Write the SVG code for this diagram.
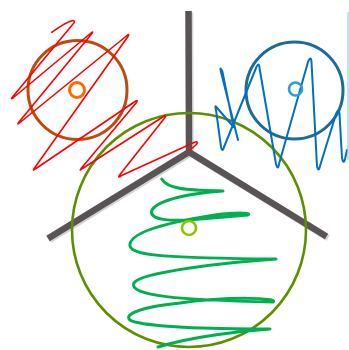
<svg xmlns="http://www.w3.org/2000/svg" width="349" height="350" viewBox="0 0 349 350">
<style>
.arm{stroke:#595355;stroke-width:6.5;fill:none;stroke-linecap:butt;stroke-linejoin:miter}
.scr{fill:none;stroke-linejoin:round;stroke-linecap:round}
</style>
<rect width="349" height="350" fill="#ffffff"/>
<g id="frame">
<path class="arm" d="M188.5,11 L189,152 M189,152 L48,238.5 M189,152 L326.5,236.5" stroke-opacity="0.25" transform="translate(1.5,1.5)"/>
<path class="arm" d="M188.5,11 L189,152 M189,152 L48,238.5 M189,152 L326.5,236.5"/>
</g>
<g id="green-circle">
<circle cx="189" cy="230" r="117" fill="none" stroke="#5f8f00" stroke-width="2.6"/>
</g>
<g id="red-circle">
<circle cx="77.5" cy="90" r="49.5" fill="none" stroke="#bf4a0c" stroke-width="3"/>
</g>
<g id="blue-circle">
<circle cx="294.5" cy="90.5" r="48.5" fill="none" stroke="#1b6d96" stroke-width="3"/>
</g>
<g id="scribbles">
<path id="red-scribble" class="scr" stroke="#ff0000" stroke-width="1.6" d="M51.7,32.3 Q66,22 73,20.5 Q76,21 73,24 L12.5,97 Q10,100 13.5,97.5 L91,33 Q94,30.5 91.5,34 L19,122 Q16.5,125.5 20,122.5 L127,35.5 Q130,33 128,36.5 L34.5,168 Q32,172 36,168.5 L135,101.5 Q138.5,99 136.5,102.5 L81.5,168 Q78.5,172 82.5,168.5 L163.5,116.5 Q167,114 165,117.5 L120,174.5 Q117,179 121.5,175.5 L194,142.5 Q199.5,140.5 196,145 L190,150"/>
<path id="blue-scribble" class="scr" stroke="#0070c0" stroke-width="2" d="M238,140 L221,72 Q219.5,65 222.5,72 L233,124 Q235,130 231,124 L218,109 Q214,103 216,110 L221,147 Q222.5,153 224,147 L256,68 Q259,61 259.5,68 L276,164 Q278,171 279,164 L308,62 Q311,55 311.5,62 L317,166 Q318.5,173 320,166 L336,114 Q339,107 339.5,114 L342,158 Q343.5,165 345,159 L347,150"/>
<line x1="348" y1="12" x2="348" y2="160" stroke="#9cc8ec" stroke-width="1.2"/>
<path id="green-scribble" class="scr" stroke="#00b050" stroke-width="3" d="M161.7,179 C168,190 190,190 223,191 C190,193 158,200 152,210 C148,220 170,222 200,219 L248,215 C252,213 240,212 215,215 C170,222 128,232 130,246 C132,256 170,258 276,259 C230,262 140,272 134,283 C128,296 180,300 273,302 C280,298 230,296 180,303 C130,308 120,318 135,322 C160,328 230,329 270,329 C240,331 190,337 158,347"/>
</g>
<g id="red-center">
<circle cx="77" cy="90" r="7.5" fill="none" stroke="#ff6a00" stroke-width="3"/>
</g>
<g id="blue-center">
<circle cx="295.5" cy="89" r="6.5" fill="none" stroke="#2a9fd6" stroke-width="2.6"/>
</g>
<g id="green-center">
<circle cx="189" cy="228" r="7" fill="none" stroke="#8cc400" stroke-width="2.6"/>
</g>
</svg>
